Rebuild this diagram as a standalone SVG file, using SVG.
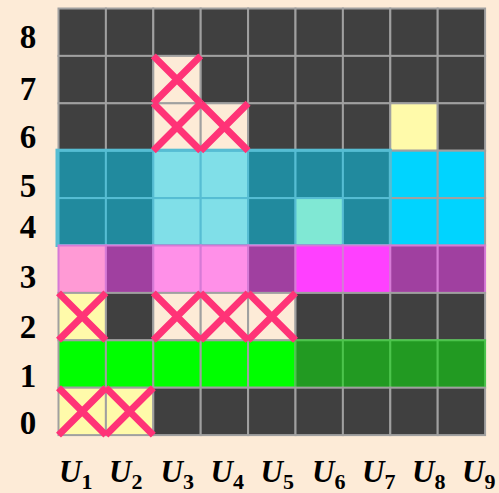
<svg xmlns="http://www.w3.org/2000/svg" xmlns:xlink="http://www.w3.org/1999/xlink" width="499" height="493" viewBox="0 0 499 493">
<style>
.c{stroke:#A0A0A0;stroke-width:2}
.d{fill:#404040}
.y{fill:#FFFAAA}
.e{fill:#FDEBD7}
.t{fill:#218A9E;stroke:#56BDD3}
.lc{fill:#80DFE8;stroke:#56BDD3}
.m{fill:#80E8D4;stroke:#56BDD3}
.cy{fill:#00D4FF}
.p1{fill:#FF9AD5;stroke:#D67AD6}
.pu{fill:#A040A0;stroke:#D67AD6}
.p2{fill:#FF90E8;stroke:#D67AD6}
.mg{fill:#FF40FF;stroke:#D67AD6}
.g{fill:#00FF00}
.dg{fill:#229A22;stroke:#4CC44C}
.lab{font-family:"Liberation Serif","Times New Roman",serif;font-weight:bold;font-size:33px;fill:#000}
.ul{font-family:"Liberation Serif","Times New Roman",serif;font-weight:bold;font-size:31px;fill:#000}
.ul .u{font-style:italic}
.ul .s{font-size:22px}
</style>
<defs>
<g id="xm"><path d="M0,0L47.4,47.4M47.4,0L0,47.4" stroke="#FF3377" stroke-width="7" fill="none"/></g>
</defs>
<rect width="499" height="493" fill="#FDEBD7"/>
<g id="grid">
<g id="row8">
<rect class="c d" x="58.5" y="8.5" width="47.4" height="47.4"/>
<rect class="c d" x="105.9" y="8.5" width="47.4" height="47.4"/>
<rect class="c d" x="153.3" y="8.5" width="47.4" height="47.4"/>
<rect class="c d" x="200.7" y="8.5" width="47.4" height="47.4"/>
<rect class="c d" x="248.1" y="8.5" width="47.4" height="47.4"/>
<rect class="c d" x="295.5" y="8.5" width="47.4" height="47.4"/>
<rect class="c d" x="342.9" y="8.5" width="47.4" height="47.4"/>
<rect class="c d" x="390.3" y="8.5" width="47.4" height="47.4"/>
<rect class="c d" x="437.7" y="8.5" width="47.4" height="47.4"/>
</g>
<g id="row7">
<rect class="c d" x="58.5" y="55.9" width="47.4" height="47.4"/>
<rect class="c d" x="105.9" y="55.9" width="47.4" height="47.4"/>
<rect class="c e" x="153.3" y="55.9" width="47.4" height="47.4"/>
<rect class="c d" x="200.7" y="55.9" width="47.4" height="47.4"/>
<rect class="c d" x="248.1" y="55.9" width="47.4" height="47.4"/>
<rect class="c d" x="295.5" y="55.9" width="47.4" height="47.4"/>
<rect class="c d" x="342.9" y="55.9" width="47.4" height="47.4"/>
<rect class="c d" x="390.3" y="55.9" width="47.4" height="47.4"/>
<rect class="c d" x="437.7" y="55.9" width="47.4" height="47.4"/>
</g>
<g id="row6">
<rect class="c d" x="58.5" y="103.3" width="47.4" height="47.4"/>
<rect class="c d" x="105.9" y="103.3" width="47.4" height="47.4"/>
<rect class="c e" x="153.3" y="103.3" width="47.4" height="47.4"/>
<rect class="c e" x="200.7" y="103.3" width="47.4" height="47.4"/>
<rect class="c d" x="248.1" y="103.3" width="47.4" height="47.4"/>
<rect class="c d" x="295.5" y="103.3" width="47.4" height="47.4"/>
<rect class="c d" x="342.9" y="103.3" width="47.4" height="47.4"/>
<rect class="c y" x="390.3" y="103.3" width="47.4" height="47.4"/>
<rect class="c d" x="437.7" y="103.3" width="47.4" height="47.4"/>
</g>
<g id="row5">
<rect class="c t" x="58.5" y="150.7" width="47.4" height="47.4"/>
<rect class="c t" x="105.9" y="150.7" width="47.4" height="47.4"/>
<rect class="c lc" x="153.3" y="150.7" width="47.4" height="47.4"/>
<rect class="c lc" x="200.7" y="150.7" width="47.4" height="47.4"/>
<rect class="c t" x="248.1" y="150.7" width="47.4" height="47.4"/>
<rect class="c t" x="295.5" y="150.7" width="47.4" height="47.4"/>
<rect class="c t" x="342.9" y="150.7" width="47.4" height="47.4"/>
<rect class="c cy" x="390.3" y="150.7" width="47.4" height="47.4"/>
<rect class="c cy" x="437.7" y="150.7" width="47.4" height="47.4"/>
</g>
<g id="row4">
<rect class="c t" x="58.5" y="198.1" width="47.4" height="47.4"/>
<rect class="c t" x="105.9" y="198.1" width="47.4" height="47.4"/>
<rect class="c lc" x="153.3" y="198.1" width="47.4" height="47.4"/>
<rect class="c lc" x="200.7" y="198.1" width="47.4" height="47.4"/>
<rect class="c t" x="248.1" y="198.1" width="47.4" height="47.4"/>
<rect class="c m" x="295.5" y="198.1" width="47.4" height="47.4"/>
<rect class="c t" x="342.9" y="198.1" width="47.4" height="47.4"/>
<rect class="c cy" x="390.3" y="198.1" width="47.4" height="47.4"/>
<rect class="c cy" x="437.7" y="198.1" width="47.4" height="47.4"/>
<rect x="57" y="150.2" width="333.3" height="95.3" fill="none" stroke="#56BDD3" stroke-width="3"/>
</g>
<g id="row3">
<rect class="c p1" x="58.5" y="245.5" width="47.4" height="47.4"/>
<rect class="c pu" x="105.9" y="245.5" width="47.4" height="47.4"/>
<rect class="c p2" x="153.3" y="245.5" width="47.4" height="47.4"/>
<rect class="c p2" x="200.7" y="245.5" width="47.4" height="47.4"/>
<rect class="c pu" x="248.1" y="245.5" width="47.4" height="47.4"/>
<rect class="c mg" x="295.5" y="245.5" width="47.4" height="47.4"/>
<rect class="c mg" x="342.9" y="245.5" width="47.4" height="47.4"/>
<rect class="c pu" x="390.3" y="245.5" width="47.4" height="47.4"/>
<rect class="c pu" x="437.7" y="245.5" width="47.4" height="47.4"/>
</g>
<g id="row2">
<rect class="c y" x="58.5" y="292.9" width="47.4" height="47.4"/>
<rect class="c d" x="105.9" y="292.9" width="47.4" height="47.4"/>
<rect class="c e" x="153.3" y="292.9" width="47.4" height="47.4"/>
<rect class="c e" x="200.7" y="292.9" width="47.4" height="47.4"/>
<rect class="c e" x="248.1" y="292.9" width="47.4" height="47.4"/>
<rect class="c d" x="295.5" y="292.9" width="47.4" height="47.4"/>
<rect class="c d" x="342.9" y="292.9" width="47.4" height="47.4"/>
<rect class="c d" x="390.3" y="292.9" width="47.4" height="47.4"/>
<rect class="c d" x="437.7" y="292.9" width="47.4" height="47.4"/>
</g>
<g id="row1">
<rect class="c g" x="58.5" y="340.3" width="47.4" height="47.4"/>
<rect class="c g" x="105.9" y="340.3" width="47.4" height="47.4"/>
<rect class="c g" x="153.3" y="340.3" width="47.4" height="47.4"/>
<rect class="c g" x="200.7" y="340.3" width="47.4" height="47.4"/>
<rect class="c g" x="248.1" y="340.3" width="47.4" height="47.4"/>
<rect class="c dg" x="295.5" y="340.3" width="47.4" height="47.4"/>
<rect class="c dg" x="342.9" y="340.3" width="47.4" height="47.4"/>
<rect class="c dg" x="390.3" y="340.3" width="47.4" height="47.4"/>
<rect class="c dg" x="437.7" y="340.3" width="47.4" height="47.4"/>
</g>
<g id="row0">
<rect class="c y" x="58.5" y="387.7" width="47.4" height="47.4"/>
<rect class="c y" x="105.9" y="387.7" width="47.4" height="47.4"/>
<rect class="c d" x="153.3" y="387.7" width="47.4" height="47.4"/>
<rect class="c d" x="200.7" y="387.7" width="47.4" height="47.4"/>
<rect class="c d" x="248.1" y="387.7" width="47.4" height="47.4"/>
<rect class="c d" x="295.5" y="387.7" width="47.4" height="47.4"/>
<rect class="c d" x="342.9" y="387.7" width="47.4" height="47.4"/>
<rect class="c d" x="390.3" y="387.7" width="47.4" height="47.4"/>
<rect class="c d" x="437.7" y="387.7" width="47.4" height="47.4"/>
</g>
</g>
<g id="crosses">
<use xlink:href="#xm" transform="translate(153.3,55.9)"/>
<use xlink:href="#xm" transform="translate(153.3,103.3)"/>
<use xlink:href="#xm" transform="translate(200.7,103.3)"/>
<use xlink:href="#xm" transform="translate(58.5,292.9)"/>
<use xlink:href="#xm" transform="translate(153.3,292.9)"/>
<use xlink:href="#xm" transform="translate(200.7,292.9)"/>
<use xlink:href="#xm" transform="translate(248.1,292.9)"/>
<use xlink:href="#xm" transform="translate(58.5,387.7)"/>
<use xlink:href="#xm" transform="translate(105.9,387.7)"/>
</g>
<g id="row-labels" class="lab" text-anchor="middle">
<text x="28" y="48">8</text>
<text x="28" y="100">7</text>
<text x="28" y="148">6</text>
<text x="28" y="197">5</text>
<text x="28" y="238">4</text>
<text x="28" y="288">3</text>
<text x="28" y="338">2</text>
<text x="28" y="387">1</text>
<text x="28" y="434">0</text>
</g>
<g id="col-labels" class="ul">
<text x="59" y="482"><tspan class="u">U</tspan><tspan class="s" dy="7">1</tspan></text>
<text x="109" y="482"><tspan class="u">U</tspan><tspan class="s" dy="7">2</tspan></text>
<text x="160.5" y="482"><tspan class="u">U</tspan><tspan class="s" dy="7">3</tspan></text>
<text x="210.5" y="482"><tspan class="u">U</tspan><tspan class="s" dy="7">4</tspan></text>
<text x="260.5" y="482"><tspan class="u">U</tspan><tspan class="s" dy="7">5</tspan></text>
<text x="312" y="482"><tspan class="u">U</tspan><tspan class="s" dy="7">6</tspan></text>
<text x="362" y="482"><tspan class="u">U</tspan><tspan class="s" dy="7">7</tspan></text>
<text x="412" y="482"><tspan class="u">U</tspan><tspan class="s" dy="7">8</tspan></text>
<text x="462" y="482"><tspan class="u">U</tspan><tspan class="s" dy="7">9</tspan></text>
</g>
</svg>
